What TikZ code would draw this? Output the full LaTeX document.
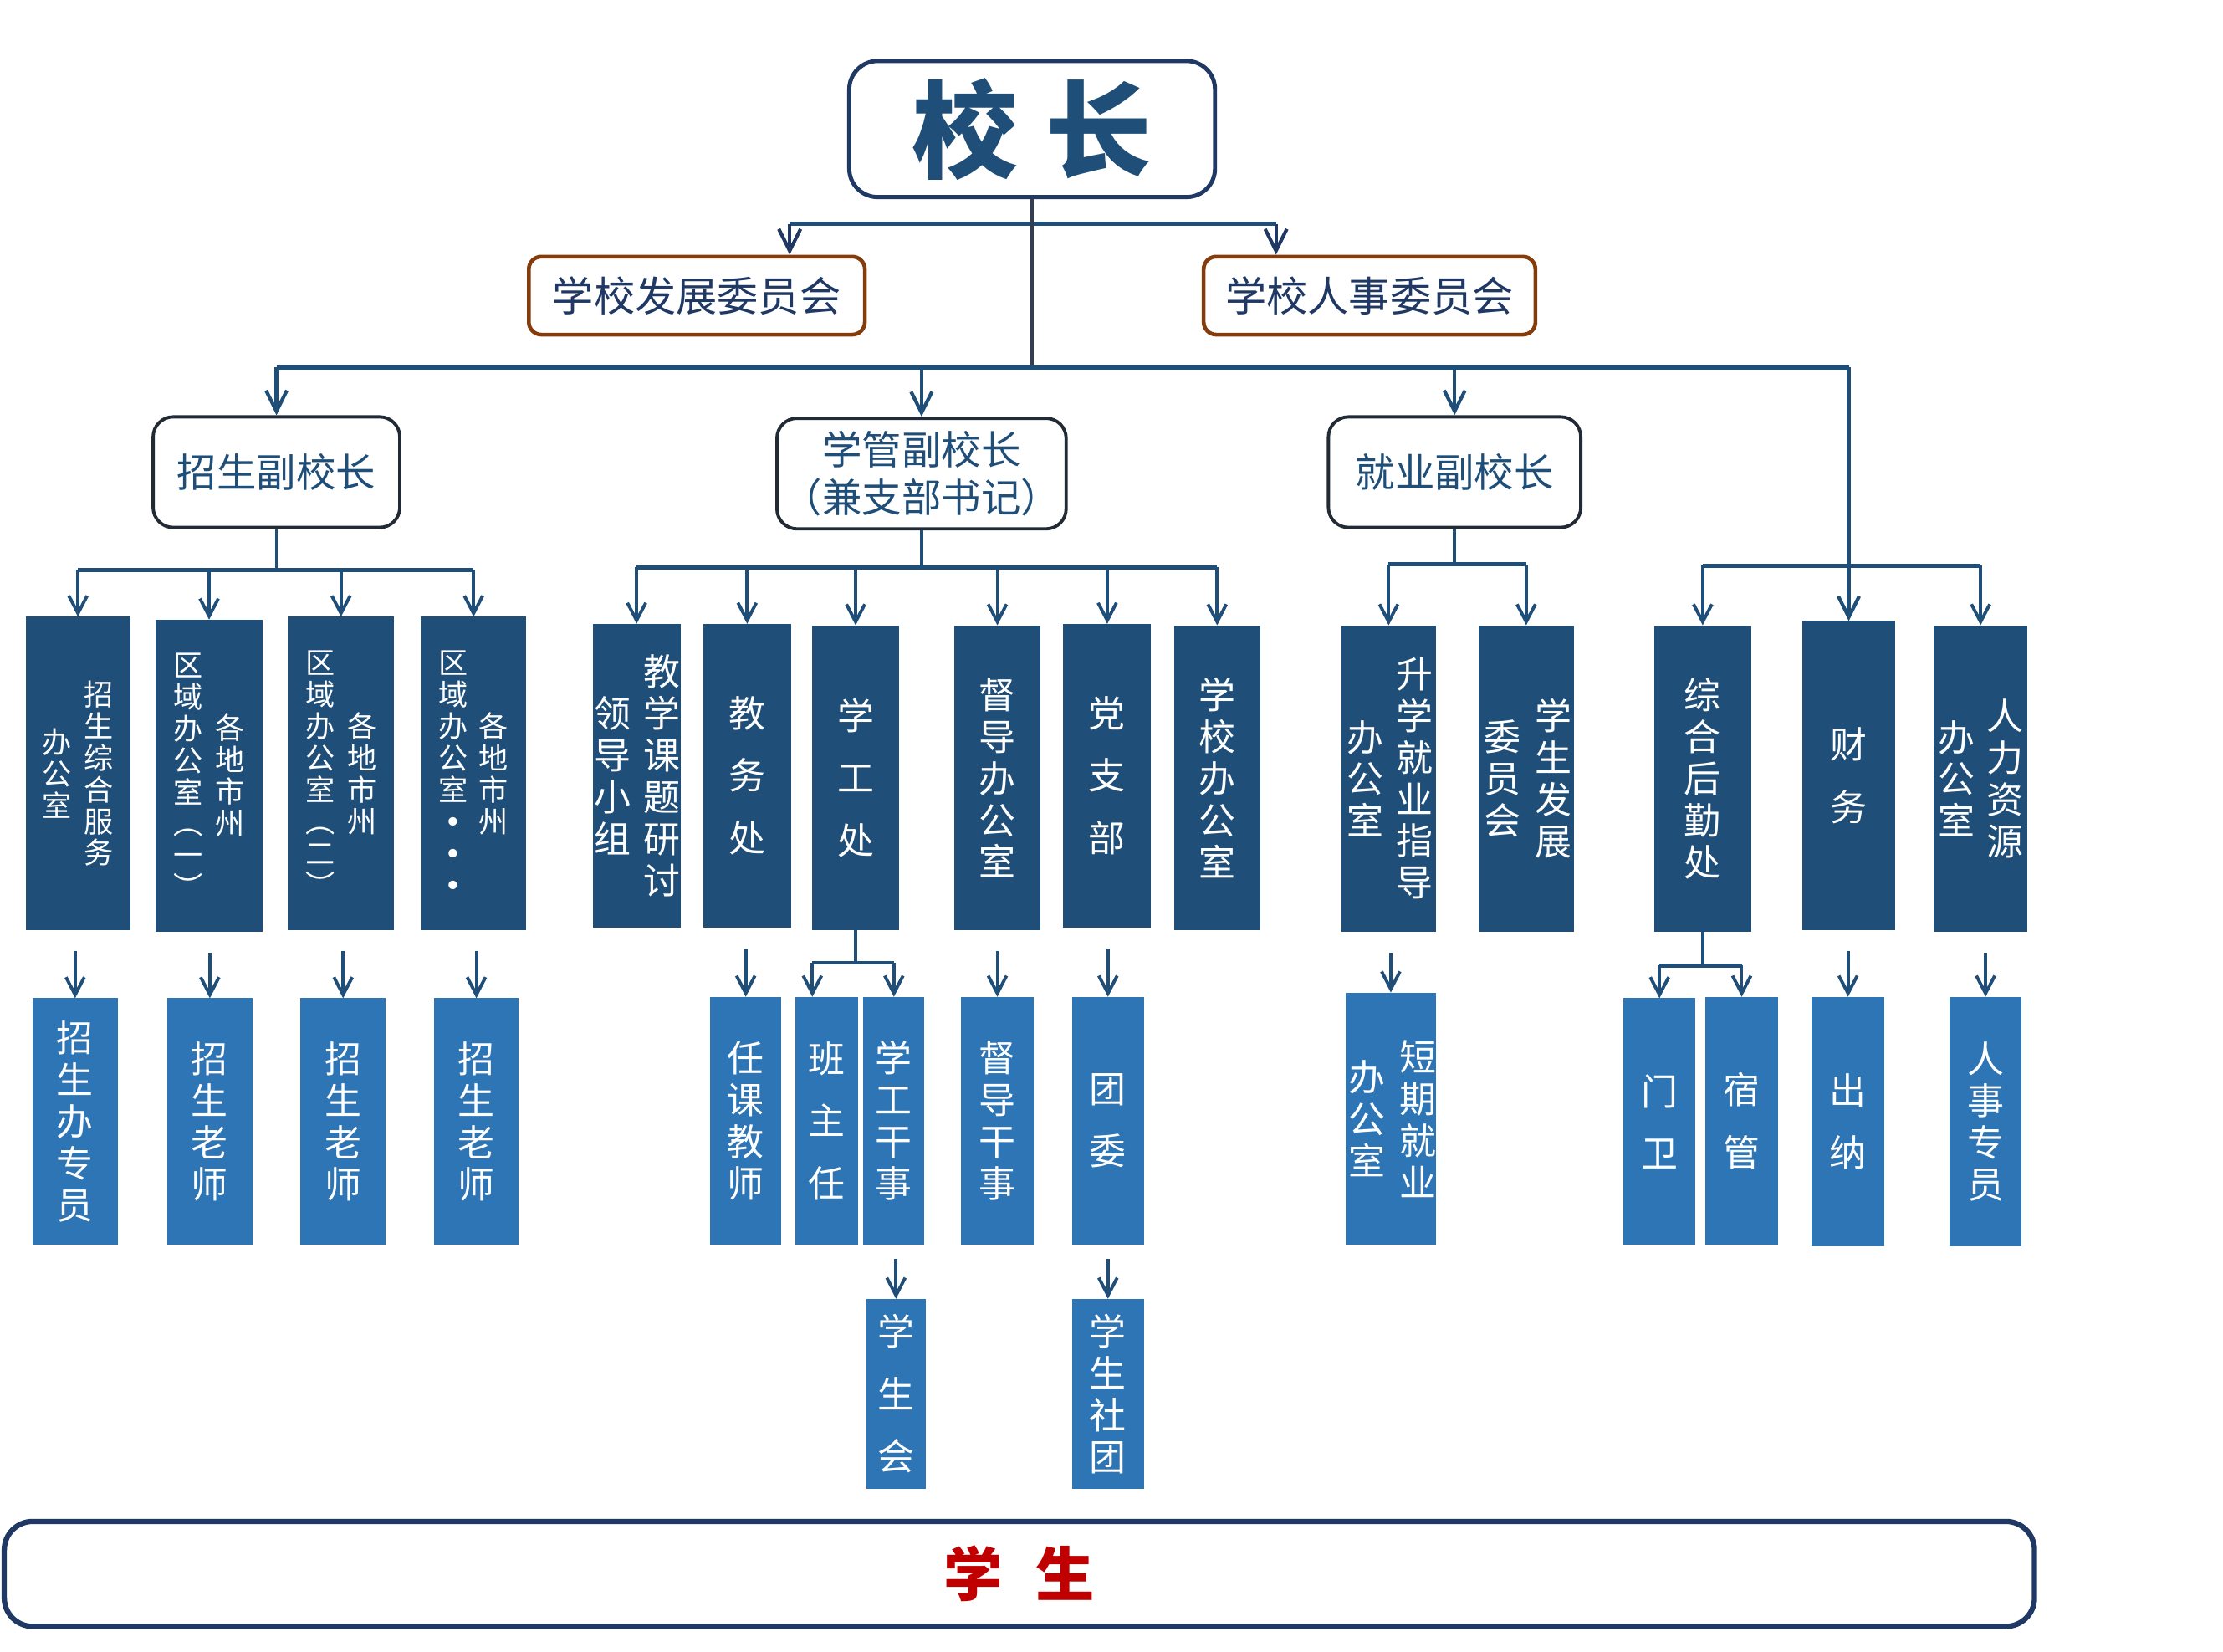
\documentclass[tikz,border=0pt]{standalone}
\usepackage{fontspec}
\newfontfamily\cjk{Noto Sans CJK SC}
\newfontfamily\djv{DejaVu Sans}
\usetikzlibrary{arrows.meta,calc}
\definecolor{navy}{HTML}{1F4E79}
\definecolor{lblue}{HTML}{2E75B6}
\definecolor{dnavy}{HTML}{1F3864}
\definecolor{trunkc}{HTML}{333F50}
\definecolor{brownc}{HTML}{843C0C}
\definecolor{vpb}{HTML}{222A35}
\definecolor{redc}{HTML}{C00000}
\newcommand\mkbox[7]{\node[#1, minimum width={(#5-#3)*0.16952mm}, minimum height={(#6-#4)*0.16952mm}] (#2) at ({(#3+#5)/2},{(#4+#6)/2}) {#7};}
\newcommand\vcol[5]{\node[#1] (#2#5) at ($(#2.center)+(#3,0)$) {#4};}
\tikzset{
  lthree/.style={fill=navy, inner sep=0pt, outer sep=0pt},
  lfour/.style={fill=lblue, inner sep=0pt, outer sep=0pt},
  topbox/.style={draw=dnavy, line width=1.4pt, rounded corners=3.4mm, fill=white, text=navy, font=\cjk, inner sep=0pt},
  combox/.style={draw=brownc, line width=1.3pt, rounded corners=1.5mm, fill=white, text=dnavy, font=\cjk\fontsize{14}{16}\selectfont, inner sep=0pt},
  vpbox/.style={draw=vpb, line width=1.1pt, rounded corners=2.4mm, fill=white, text=navy, font=\cjk\fontsize{13.5}{16.4}\selectfont, align=center, inner sep=0pt},
  stubox/.style={draw=dnavy, line width=1.8pt, rounded corners=3.4mm, fill=white, text=redc, font=\cjk\bfseries\fontsize{20}{24}\selectfont, inner sep=0pt},
  vs/.style={text=white, align=center, inner sep=0pt, font=\cjk\fontsize{10}{10.8}\selectfont},
  vm/.style={text=white, align=center, inner sep=0pt, font=\cjk\fontsize{12.5}{14.2}\selectfont},
  vw/.style={text=white, align=center, inner sep=0pt, font=\cjk\fontsize{12.5}{21.2}\selectfont},
  conn/.style={draw=navy, line width=1.1pt},
  bus/.style={draw=navy, line width=1.7pt},
  bustwo/.style={draw=navy, line width=1.4pt},
  busk/.style={draw=navy, line width=1.5pt},
  trunk/.style={draw=trunkc, line width=1.3pt},
  arr/.style={draw=navy, line width=1.1pt, -{Straight Barb[length=2.1mm,width=2.2mm]}},
  arrb/.style={draw=navy, line width=1.2pt, -{Straight Barb[length=2.5mm,width=2.5mm]}},
  arrk/.style={draw=dnavy, line width=1.2pt, -{Straight Barb[length=2.6mm,width=2.6mm]}},
}
\begin{document}
\begin{tikzpicture}[x=0.16952mm,y=-0.16952mm]
\useasboundingbox (0,0) rectangle (1568,1165);
\fill[white] (0,0) rectangle (1568,1165);

% ---- top levels
\mkbox{topbox}{xz}{599}{43}{857}{139}{\bfseries\fontsize{36}{40}\selectfont 校\hspace{3.4mm}长}
\mkbox{combox}{fz}{373}{181}{610}{236}{学校发展委员会}
\mkbox{combox}{rs}{849}{181}{1083}{236}{学校人事委员会}
\mkbox{vpbox}{zs}{108}{294}{282}{372}{招生副校长}
\mkbox{vpbox}{xg}{548}{295}{752}{373}{学管副校长\\（兼支部书记）}
\mkbox{vpbox}{jy}{937}{294}{1115}{372}{就业副校长}

% ---- level 3
\mkbox{lthree}{a1}{18}{435}{92}{656}{}
\vcol{vs}{a1}{14.5}{招\\生\\综\\合\\服\\务}{r}
\vcol{vs}{a1}{-15}{办\\公\\室}{l}
\mkbox{lthree}{a2}{110}{437}{185}{657}{}
\vcol{vs}{a2}{15}{各\\地\\市\\州}{r}
\vcol{vs}{a2}{-14.5}{区\\域\\办\\公\\室\\︵\\一\\︶}{l}
\mkbox{lthree}{a3}{203}{435}{278}{656}{}
\vcol{vs}{a3}{15}{各\\地\\市\\州}{r}
\vcol{vs}{a3}{-14.5}{区\\域\\办\\公\\室\\︵\\二\\︶}{l}
\mkbox{lthree}{a4}{297}{435}{371}{656}{}
\vcol{vs}{a4}{14}{各\\地\\市\\州}{r}
\vcol{vs}{a4}{-14.5}{区\\域\\办\\公\\室\\{\djv •}\\{\djv •}\\{\djv •}}{l}

\mkbox{lthree}{b1}{418}{440}{480}{654}{}
\vcol{vm}{b1}{18}{教\\学\\课\\题\\研\\讨}{r}
\vcol{vm}{b1}{-17}{领\\导\\小\\组}{l}
\mkbox{lthree,vw}{b2}{496}{440}{558}{654}{教\\务\\处}
\mkbox{lthree,vw}{b3}{573}{441}{634}{656}{学\\工\\处}
\mkbox{lthree,vm}{b4}{673}{441}{734}{656}{督\\导\\办\\公\\室}
\mkbox{lthree,vw}{b5}{750}{440}{812}{654}{党\\支\\部}
\mkbox{lthree,vm}{b6}{828}{441}{889}{656}{学\\校\\办\\公\\室}

\mkbox{lthree}{c1}{946}{441}{1013}{657}{}
\vcol{vm}{c1}{18.5}{升\\学\\就\\业\\指\\导}{r}
\vcol{vm}{c1}{-16.5}{办\\公\\室}{l}
\mkbox{lthree}{c2}{1043}{441}{1110}{657}{}
\vcol{vm}{c2}{19}{学\\生\\发\\展}{r}
\vcol{vm}{c2}{-16.5}{委\\员\\会}{l}

\mkbox{lthree,vm}{d1}{1167}{441}{1235}{657}{综\\合\\后\\勤\\处}
\mkbox{lthree,vw}{d2}{1271}{438}{1337}{656}{财\\务}
\mkbox{lthree}{d3}{1364}{441}{1430}{657}{}
\vcol{vm}{d3}{17}{人\\力\\资\\源}{r}
\vcol{vm}{d3}{-17}{办\\公\\室}{l}

% ---- level 4
\mkbox{lfour,vm}{e1}{23}{704}{83}{878}{招\\生\\办\\专\\员}
\mkbox{lfour,vm}{e2}{118}{704}{178}{878}{招\\生\\老\\师}
\mkbox{lfour,vm}{e3}{212}{704}{272}{878}{招\\生\\老\\师}
\mkbox{lfour,vm}{e4}{306}{704}{366}{878}{招\\生\\老\\师}

\mkbox{lfour,vm}{f1}{501}{703}{551}{878}{任\\课\\教\\师}
\mkbox{lfour,vw}{f2}{561}{703}{605}{878}{班\\主\\任}
\mkbox{lfour,vm}{f3}{609}{703}{652}{878}{学\\工\\干\\事}
\mkbox{lfour,vm}{f4}{678}{703}{729}{878}{督\\导\\干\\事}
\mkbox{lfour,vw}{f5}{756}{703}{807}{878}{团\\委}
\mkbox{lfour,vw}{f6}{611}{916}{653}{1050}{学\\生\\会}
\mkbox{lfour,vm}{f7}{756}{916}{807}{1050}{学\\生\\社\\团}

\mkbox{lfour}{h1}{949}{700}{1013}{878}{}
\vcol{vm}{h1}{19}{短\\期\\就\\业}{r}
\vcol{vm}{h1}{-17}{办\\公\\室}{l}

\mkbox{lfour,vw}{g1}{1145}{704}{1196}{878}{门\\卫}
\mkbox{lfour,vw}{g2}{1203}{703}{1254}{878}{宿\\管}
\mkbox{lfour,vw}{g3}{1278}{703}{1329}{879}{出\\纳}
\mkbox{lfour,vm}{g4}{1375}{703}{1426}{879}{人\\事\\专\\员}

% ---- students
\mkbox{stubox}{stu}{3}{1073}{1435}{1147}{学\hspace{4mm}生}

% ---- connectors
\coordinate (yA) at (0,259);
\coordinate (yB) at (0,402);
\coordinate (yC) at (0,400);
\coordinate (yD) at (0,398);
\coordinate (yE) at (0,399);
\coordinate (yF) at (0,679);
\coordinate (yG) at (0,681);
\coordinate (k1) at (557,158);
\coordinate (k2) at (900,158);

\draw[busk] (k1) -- (k2);
\draw[arrk] (k1) -- (k1 |- fz.north);
\draw[arrk] (k2) -- (k2 |- rs.north);
\draw[trunk] (xz.south) -- (xz.south |- yA);

\draw[bus] (zs.north |- yA) -- (d2.north |- yA);
\foreach \n in {zs,xg,jy,d2} \draw[arrb] (\n.north |- yA) -- (\n.north);

\draw[conn] (zs.south) -- (zs.south |- yB);
\draw[bustwo] (a1.north |- yB) -- (a4.north |- yB);
\foreach \n in {a1,a2,a3,a4} \draw[arr] (\n.north |- yB) -- (\n.north);

\draw[conn] (xg.south) -- (xg.south |- yC);
\draw[bustwo] (b1.north |- yC) -- (b6.north |- yC);
\foreach \n in {b1,b2,b3,b4,b5,b6} \draw[arr] (\n.north |- yC) -- (\n.north);

\draw[conn] (jy.south) -- (jy.south |- yD);
\draw[bustwo] (c1.north |- yD) -- (c2.north |- yD);
\foreach \n in {c1,c2} \draw[arr] (\n.north |- yD) -- (\n.north);

\draw[bustwo] (d1.north |- yE) -- (d3.north |- yE);
\foreach \n in {d1,d3} \draw[arr] (\n.north |- yE) -- (\n.north);

\foreach \p/\c in {a1/e1,a2/e2,a3/e3,a4/e4,b2/f1,b4/f4,b5/f5,c1/h1,d2/g3,d3/g4}
  \draw[arr] ($(\c.north |- \p.south)+(0,15)$) -- (\c.north);

\draw[conn] (b3.south) -- (b3.south |- yF);
\coordinate (p1) at ($(f2.north west)+(12,0)$);
\draw[bustwo] (p1 |- yF) -- (f3.north |- yF);
\draw[arr] (p1 |- yF) -- (p1);
\draw[arr] (f3.north |- yF) -- (f3.north);

\draw[conn] (d1.south) -- (d1.south |- yG);
\draw[bustwo] (g1.north |- yG) -- (g2.north |- yG);
\draw[arr] (g1.north |- yG) -- (g1.north);
\draw[arr] (g2.north |- yG) -- (g2.north);

\draw[arr] ($(f6.north |- f3.south)+(0,10)$) -- (f6.north);
\draw[arr] ($(f7.north |- f5.south)+(0,10)$) -- (f7.north);
\end{tikzpicture}
\end{document}
